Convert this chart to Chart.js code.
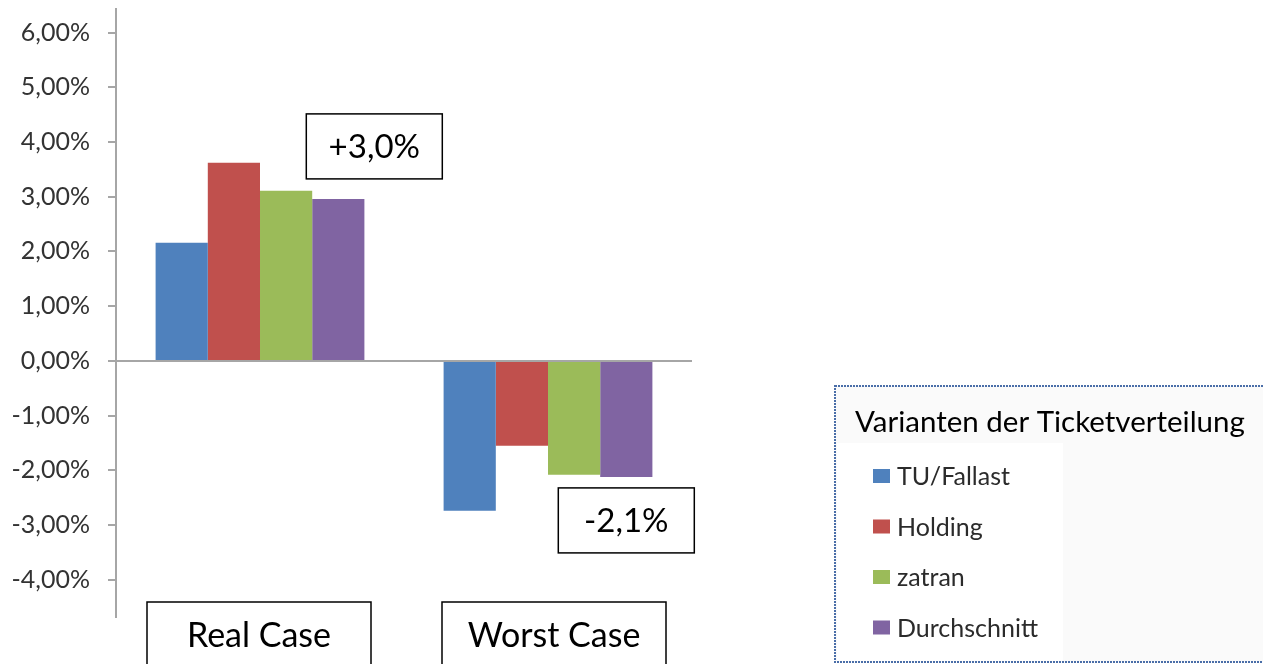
<!DOCTYPE html>
<html>
<head>
<meta charset="utf-8">
<script src="https://cdn.jsdelivr.net/npm/chart.js@4"></script>
<style>
  html, body { margin: 0; padding: 0; background: #fff; }
</style>
</head>
<body>
<canvas id="myChart" width="1263" height="664"></canvas>
<script>
// data (percent)
const categories = ["Real Case", "Worst Case"];
const seriesNames = ["TU/Fallast", "Holding", "zatran", "Durchschnitt"];
const tuFallast = [2.16, -2.74];
const holding = [3.62, -1.55];
const zatran = [3.11, -2.08];
const durchschnitt = [2.96, -2.12];
const yTicks = [-4, -3, -2, -1, 0, 1, 2, 3, 4, 5, 6];
const calloutLabels = ["+3,0%", "-2,1%"];
const legendTitle = "Varianten der Ticketverteilung";

const colors = ["#4f81bd", "#c0504d", "#9bbb59", "#8064a2"];
const FONT = "Lato, 'Open Sans', sans-serif";

function box(ctx, x, y, w, h) {
  ctx.fillStyle = "#fff";
  ctx.fillRect(x, y, w, h);
  ctx.strokeStyle = "#000";
  ctx.lineWidth = 1.5;
  ctx.strokeRect(x, y, w, h);
}

const overlay = {
  id: "overlay",
  afterDraw(chart) {
    const ctx = chart.ctx;
    const xs = chart.scales.x;
    ctx.save();
    ctx.textAlign = "center";
    ctx.textBaseline = "middle";
    ctx.font = "34px " + FONT;

    // category boxes under the axis
    categories.forEach((c, i) => {
      const cx = xs.getPixelForValue(i) + (i === 0 ? -1 : 6);
      box(ctx, cx - 112, 602, 224, 80);
      ctx.fillStyle = "#000";
      ctx.fillText(c, cx, 636);
    });

    // callouts next to the "Durchschnitt" bars
    ctx.font = "33px " + FONT;
    const meta = chart.getDatasetMeta(3);
    const b0 = meta.data[0], b1 = meta.data[1];
    const w = 136, h = 65;
    let x0 = b0.x + 36 - w / 2, y0 = b0.y - 20 - h;
    box(ctx, x0, y0, w, h);
    ctx.fillStyle = "#000";
    ctx.fillText(calloutLabels[0], x0 + w / 2, y0 + h / 2 + 1);
    let x1 = b1.x - w / 2, y1 = b1.y + 11;
    box(ctx, x1, y1, w, h);
    ctx.fillStyle = "#000";
    ctx.fillText(calloutLabels[1], x1 + w / 2, y1 + h / 2 + 1);

    // legend panel
    ctx.fillStyle = "#fafafa";
    ctx.fillRect(835, 386, 440, 276);
    ctx.fillStyle = "#fff";
    ctx.fillRect(837, 443, 226, 218);
    ctx.setLineDash([2, 1]);
    ctx.strokeStyle = "#4a6ea8";
    ctx.lineWidth = 2;
    ctx.strokeRect(835, 386, 440, 276);
    ctx.setLineDash([]);

    ctx.textAlign = "left";
    ctx.textBaseline = "alphabetic";
    ctx.fillStyle = "#000";
    ctx.font = "29.5px " + FONT;
    ctx.fillText(legendTitle, 855, 432);

    ctx.font = "25px " + FONT;
    ctx.textBaseline = "middle";
    chart.data.datasets.forEach((ds, i) => {
      const y = 476 + i * 50.5;
      ctx.fillStyle = ds.backgroundColor;
      ctx.fillRect(873, y - 7, 17, 14);
      ctx.fillStyle = "#2b2b2b";
      ctx.fillText(ds.label, 897, y + 1);
    });
    ctx.restore();
  }
};

const ctx = document.getElementById("myChart");

new Chart(ctx, {
  type: "bar",
  data: {
    labels: categories,
    datasets: [tuFallast, holding, zatran, durchschnitt].map((d, i) => ({
      label: seriesNames[i],
      data: d,
      backgroundColor: colors[i],
      borderWidth: 0,
      categoryPercentage: 0.725,
      barPercentage: 1,
    })),
  },
  options: {
    responsive: false,
    animation: false,
    devicePixelRatio: 1,
    layout: { autoPadding: false, padding: { left: 0, right: 571, top: 9, bottom: 47 } },
    plugins: {
      legend: { display: false },
      tooltip: { enabled: false },
    },
    scales: {
      x: { display: false },
      y: {
        min: -4.68,
        max: 6.43,
        afterFit(scale) {
          scale.width = 116;
          scale.paddingTop = 0;
          scale.paddingBottom = 0;
        },
        afterBuildTicks(scale) { scale.ticks = yTicks.map(v => ({ value: v })); },
        border: { display: true, color: "#a6a6a6", width: 2 },
        grid: {
          color: c => (c.tick && c.tick.value === 0 ? "#a6a6a6" : "rgba(0,0,0,0)"),
          lineWidth: 2,
          tickColor: "#a6a6a6",
          tickLength: 8,
          tickWidth: 2,
        },
        ticks: {
          padding: 18,
          color: "#333",
          font: { family: FONT, size: 25 },
          callback: v => v.toFixed(2).replace(".", ",") + "%",
        },
      },
    },
  },
  plugins: [overlay],
});
</script>
</body>
</html>
